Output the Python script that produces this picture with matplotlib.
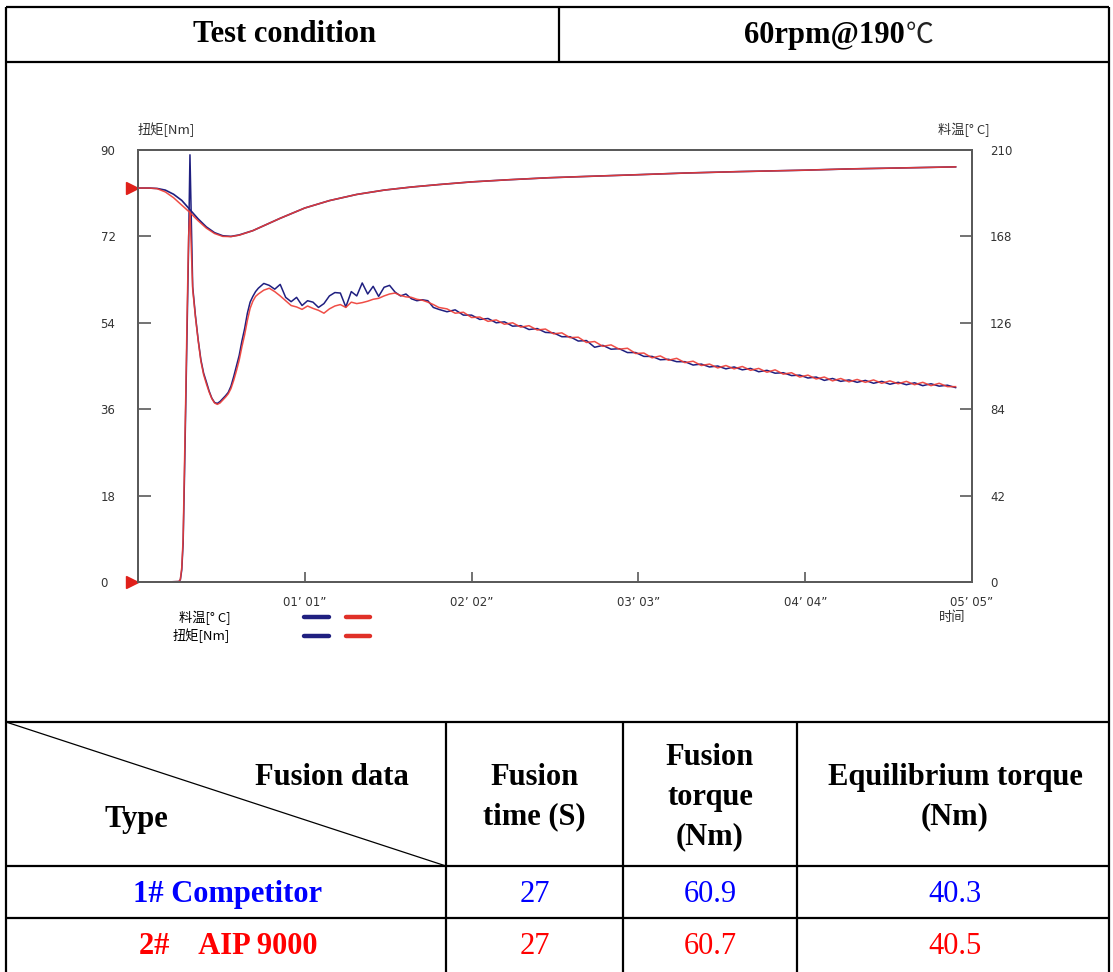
import numpy as np
import matplotlib
matplotlib.use("Agg")
import matplotlib.pyplot as plt
from matplotlib.lines import Line2D
from matplotlib.legend_handler import HandlerTuple

time_s = np.array([
    0, 5, 10, 15, 15.5, 16, 16.5, 17, 17.5, 18, 18.5, 19, 20, 21, 22, 23, 24, 25,
    26, 27, 28, 29, 30, 31, 32, 33, 34, 35, 36, 37, 38, 39, 40, 41, 42, 43,
    44, 46, 48, 50, 52, 54, 56, 58, 60, 62, 64, 66, 68, 70, 72, 74, 76, 78,
    80, 82, 84, 86, 88, 90, 92, 94, 96, 98, 100, 102, 104, 106, 108, 110,
    113, 116, 119, 122, 125, 128, 131, 134, 137, 140, 143, 146, 149, 152, 155,
    158, 161, 164, 167, 170, 173, 176, 179, 182, 185, 188, 191, 194, 197, 200,
    203, 206, 209, 212, 215, 218, 221, 224, 227, 230, 233, 236, 239, 242, 245,
    248, 251, 254, 257, 260, 263, 266, 269, 272, 275, 278, 281, 284, 287, 290,
    293, 296, 299])

torque_competitor = np.array([
    0, 0, 0, 0.1, 0.5, 2.5, 8, 22, 38, 55, 70, 89, 61.5, 55.5, 50.5, 46.3, 43.5, 41.7,
    39.8, 38.3, 37.4, 37.2, 37.6, 38.2, 38.8, 39.5, 40.8, 42.8, 45.0, 47.2, 50.2, 52.8,
    56.0, 58.3, 59.5, 60.5,
    61.2, 62.2, 61.8, 61.0, 62.0, 59.3, 58.4, 59.3, 57.6, 58.6, 58.3, 57.2, 58.0, 59.6,
    60.3, 60.2, 57.3, 60.5, 59.6, 62.3, 60.0, 61.6, 59.5, 61.4, 61.8, 60.4, 59.6, 60.0,
    59.0, 58.6, 58.8, 58.6, 57.2, 56.8,
    56.3, 56.7, 55.6, 55.6, 54.7, 54.9, 54.0, 54.2, 53.3, 53.4, 52.6, 52.8, 52.0, 51.9,
    51.1, 51.1, 50.2, 50.3, 48.9, 49.3, 48.5, 48.6, 47.8, 47.8, 47.0, 47.0, 46.3, 46.4,
    45.9, 45.9, 45.2, 45.4, 44.8, 45.0, 44.4, 44.8, 44.2, 44.5, 43.8, 44.1, 43.5, 43.6,
    43.0, 43.1, 42.5, 42.7, 42.0, 42.4, 41.8, 42.1, 41.6, 42.0, 41.4, 41.8, 41.2, 41.6,
    41.1, 41.5, 40.9, 41.3, 40.8, 41.0, 40.5])

torque_aip9000 = np.array([
    0, 0, 0, 0.1, 0.6, 3, 9, 24, 40, 57, 72, 77.5, 61.0, 55.2, 50.3, 46.0, 43.2, 41.3,
    39.6, 38.2, 37.3, 37.0, 37.3, 37.9, 38.5, 39.2, 40.3, 42.0, 44.0, 46.2, 49.0, 51.5,
    54.5, 57.0, 58.5, 59.5,
    60.0, 60.8, 61.2, 60.5, 59.6, 58.6, 57.6, 57.3, 56.8, 57.5, 57.0, 56.6, 56.0, 56.9,
    57.5, 57.8, 57.2, 58.3, 58.0, 58.2, 58.5, 58.9, 59.1, 59.6, 60.0, 60.2, 59.7, 59.4,
    59.3, 58.9, 58.7, 58.3, 57.8, 57.2,
    56.9, 56.0, 56.2, 55.1, 55.2, 54.3, 54.6, 53.7, 54.0, 53.1, 53.4, 52.5, 52.7, 51.7,
    51.9, 50.9, 51.0, 49.9, 50.1, 49.1, 49.4, 48.5, 48.7, 47.6, 47.7, 46.7, 47.1, 46.2,
    46.6, 45.7, 46.0, 45.1, 45.4, 44.6, 45.1, 44.4, 44.9, 44.1, 44.5, 43.7, 44.2, 43.3,
    43.6, 42.7, 43.1, 42.3, 42.7, 41.9, 42.4, 41.7, 42.2, 41.6, 42.1, 41.4, 41.9, 41.3,
    41.8, 41.1, 41.6, 40.9, 41.4, 40.7, 40.7])

# melt temperature (deg C)
temp_time_s = [0, 4, 7, 10, 13, 16, 19, 22, 25, 28, 31, 34, 37, 42, 47, 52, 61, 70,
               80, 90, 100, 110, 122, 135, 150, 165, 183, 200, 220, 244, 260, 280, 299]
temp_competitor = [191.5, 191.5, 191.3, 190.5, 188.5, 185.5, 181.0, 176.5, 172.6, 169.8,
                   168.3, 168.0, 168.7, 170.8, 173.8, 176.8, 181.8, 185.4, 188.4, 190.5,
                   192.0, 193.2, 194.5, 195.5, 196.5, 197.2, 198.0, 198.8, 199.5, 200.2,
                   200.8, 201.3, 201.8]
temp_aip9000 = [191.5, 191.5, 191.2, 189.6, 186.8, 183.2, 179.6, 175.6, 172.0, 169.4,
                168.0, 167.9, 168.6, 170.8, 173.8, 176.8, 181.8, 185.4, 188.4, 190.5,
                192.0, 193.2, 194.5, 195.5, 196.5, 197.2, 198.0, 198.8, 199.5, 200.2,
                200.8, 201.3, 201.8]

x_ticks = [61, 122, 183, 244, 305]
x_tick_labels = ["01\u2019 01\u201d", "02\u2019 02\u201d", "03\u2019 03\u201d",
                 "04\u2019 04\u201d", "05\u2019 05\u201d"]
torque_ticks = [0, 18, 36, 54, 72, 90]
temp_ticks = [0, 42, 84, 126, 168, 210]

# fusion table
header_cols = ["Fusion\ntime (S)", "Fusion\ntorque\n(Nm)", "Equilibrium torque\n(Nm)"]
samples = ["1# Competitor", "2#    AIP 9000"]
fusion_time = [27, 27]
fusion_torque = [60.9, 60.7]
equilibrium_torque = [40.3, 40.5]
row_colors = ["#0000ff", "#ff0000"]

BLUE = "#1f1f80"
RED = "#ee3b33"
W, H = 1113, 972
SERIF = ["Liberation Serif", "Noto Sans CJK SC"]
CJK = ["Noto Sans CJK SC", "DejaVu Sans"]

fig = plt.figure(figsize=(W / 100, H / 100), dpi=100)
fig.patch.set_facecolor("white")

# table frame drawn in pixel space
tab = fig.add_axes([0, 0, 1, 1])
tab.set_xlim(0, W)
tab.set_ylim(H, 0)
tab.axis("off")
lw = 1.6
tab.vlines([6, 1109], 7, H, color="black", lw=lw)
tab.hlines([7, 62, 722, 866, 918], 6, 1109, color="black", lw=lw)
tab.vlines(559, 7, 62, color="black", lw=lw)
tab.vlines([446, 623, 797], 722, H, color="black", lw=lw)
tab.plot([6, 446], [722, 866], color="black", lw=0.9)

fs = 22
tab.text(285, 35, "Test condition", ha="center", va="center", fontsize=fs,
         fontweight="bold", family=SERIF)
tab.text(905, 35, "60rpm@190", ha="right", va="center", fontsize=fs,
         fontweight="bold", family=SERIF)
tab.text(906, 35, "\u2103", ha="left", va="center", fontsize=fs - 2,
         family=["Noto Sans CJK SC"], color="#222222")
tab.text(332, 777, "Fusion data", ha="center", va="center", fontsize=fs,
         fontweight="bold", family=SERIF)
tab.text(136, 819, "Type", ha="center", va="center", fontsize=fs,
         fontweight="bold", family=SERIF)
col_centers = [534.5, 710, 955]
for cx, label in zip(col_centers, header_cols):
    tab.text(cx, 797, label, ha="center", va="center", fontsize=fs,
             fontweight="bold", family=SERIF, linespacing=1.5)

row_y = [894, 946]
for i in range(len(samples)):
    c = row_colors[i]
    tab.text(228, row_y[i], samples[i], ha="center", va="center", fontsize=fs,
             fontweight="bold", color=c, family=SERIF)
    vals = [str(fusion_time[i]), f"{fusion_torque[i]:.1f}", f"{equilibrium_torque[i]:.1f}"]
    for cx, v in zip(col_centers, vals):
        tab.text(cx, row_y[i], v, ha="center", va="center", fontsize=fs,
                 color=c, family=SERIF)

# the plastograph
left, right, top, bottom = 138, 972, 150, 582
ax = fig.add_axes([left / W, 1 - bottom / H, (right - left) / W, (bottom - top) / H])
ax2 = ax.twinx()

ax.plot(time_s, torque_competitor, color=BLUE, lw=1.1, zorder=3)
ax.plot(time_s, torque_aip9000, color=RED, lw=1.1, alpha=0.9, zorder=4)
ax2.plot(temp_time_s, temp_competitor, color=BLUE, lw=1.2, zorder=3)
ax2.plot(temp_time_s, temp_aip9000, color=RED, lw=1.1, alpha=0.9, zorder=4)

ax.set_xlim(0, 305)
ax.set_ylim(0, 90)
ax2.set_ylim(0, 210)

frame_c = "#5a5a5a"
for a in (ax, ax2):
    for s in a.spines.values():
        s.set_color(frame_c)
        s.set_linewidth(1.4)

txt_c = "#333333"
tick_font = dict(family="DejaVu Sans", size=8.5)
ax.set_xticks(x_ticks)
ax.set_xticklabels(x_tick_labels, color=txt_c, **tick_font)
ax.tick_params(axis="x", direction="in", length=7, width=1.2, color=frame_c, pad=10)
ax.set_yticks(torque_ticks)
ax.set_yticklabels([str(v) for v in torque_ticks], ha="left", color=txt_c, **tick_font)
ax.tick_params(axis="y", direction="in", length=9, width=1.2, color=frame_c, pad=27)
ax2.set_yticks(temp_ticks)
ax2.set_yticklabels([str(v) for v in temp_ticks], color=txt_c, **tick_font)
ax2.tick_params(axis="y", direction="in", length=9, width=1.2, color=frame_c, pad=13)

# set-point markers on the left frame
tri = ax.get_yaxis_transform()
ax.plot([-0.007], [0], marker=">", color="#e0201a", ms=8, transform=tri, clip_on=False)
ax.plot([-0.007], [temp_aip9000[0] * 90 / 210], marker=">", color="#e0201a", ms=8,
        transform=tri, clip_on=False)

cjk_size = 9.5
ax.text(0.0, 1.047, "扭矩[Nm]", transform=ax.transAxes, ha="left", va="center",
        fontsize=cjk_size, family=CJK, color=txt_c)
ax.text(1.0216, 1.047, "料温[° C]", transform=ax.transAxes, ha="right", va="center",
        fontsize=cjk_size, family=CJK, color=txt_c)
ax.text(0.976, -0.082, "时间", transform=ax.transAxes, ha="center", va="center",
        fontsize=cjk_size, family=CJK, color=txt_c)

hb = Line2D([], [], color="#202080", lw=3.2, solid_capstyle="round")
hr = Line2D([], [], color="#e03028", lw=3.2, solid_capstyle="round")
ax.legend(handles=[(hb, hr), (hb, hr)], labels=["料温[° C]", "扭矩[Nm]"],
          handler_map={tuple: HandlerTuple(ndivide=None, pad=1.3)},
          markerfirst=False, frameon=False, loc="upper left",
          bbox_to_anchor=(0.042, -0.066), borderpad=0, borderaxespad=0,
          handlelength=5.0, handletextpad=5.6, labelspacing=0.3,
          prop={"family": CJK, "size": cjk_size})

fig.savefig("out.png", dpi=100, facecolor="white")
